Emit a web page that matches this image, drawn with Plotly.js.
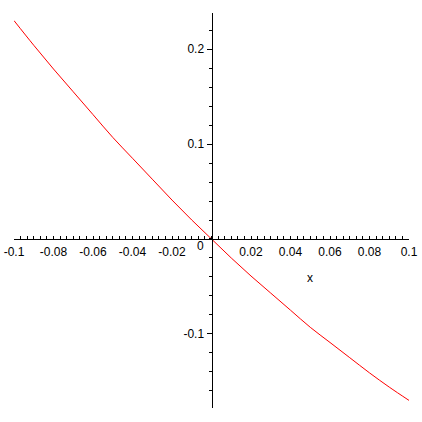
<!DOCTYPE html>
<html>
<head>
<meta charset="utf-8">
<script src="https://cdn.plot.ly/plotly-3.0.1.min.js"></script>
<style>html,body{margin:0;padding:0;background:#fff;}#plot{width:422px;height:422px;}</style>
</head>
<body>
<div id="plot"></div>
<script>
// Curve values
var xValues = [-0.1, -0.09, -0.08, -0.07, -0.06, -0.05, -0.04, -0.03, -0.02, -0.01, 0,
               0.01, 0.02, 0.03, 0.04, 0.05, 0.06, 0.07, 0.08, 0.09, 0.1];
var yValues = [0.230, 0.204, 0.179, 0.155, 0.131, 0.107, 0.085, 0.063, 0.041, 0.020, 0,
               -0.020, -0.039, -0.057, -0.075, -0.093, -0.109, -0.125, -0.141, -0.156, -0.170];

// Tick labels
var xTickVals = [-0.1, -0.08, -0.06, -0.04, -0.02, 0.02, 0.04, 0.06, 0.08, 0.1];
var xTickText = ['-0.1', '-0.08', '-0.06', '-0.04', '-0.02', '0.02', '0.04', '0.06', '0.08', '0.1'];
var yTickVals = [-0.1, 0.1, 0.2];
var yTickText = ['-0.1', '0.1', '0.2'];
var xRange = [-0.1, 0.1];
var yRange = [-0.178, 0.238];
var xAxisLabel = 'x';
var originLabel = '0';

var fontFam = '"Liberation Sans", Arial, sans-serif';
var xPos = (0 - yRange[0]) / (yRange[1] - yRange[0]);

var trace = {
  x: xValues, y: yValues, type: 'scatter', mode: 'lines',
  line: {color: '#ff0000', width: 1, shape: 'spline'},
  hoverinfo: 'skip'
};

var layout = {
  width: 422, height: 422,
  margin: {l: 14, r: 13, t: 13, b: 14},
  paper_bgcolor: '#ffffff', plot_bgcolor: '#ffffff',
  showlegend: false,
  font: {family: fontFam, size: 12, color: '#000000'},
  xaxis: {
    range: xRange, anchor: 'free', position: xPos,
    showgrid: false, zeroline: false,
    showline: true, linecolor: '#000000', linewidth: 1,
    tickmode: 'array', tickvals: xTickVals, ticktext: xTickText,
    ticks: 'inside', ticklen: 3, tickcolor: '#000000', tickwidth: 1,
    ticklabelstandoff: 2,
    tickfont: {family: fontFam, size: 12, color: '#000000'},
    minor: {tickmode: 'linear', tick0: 0, dtick: 0.02 / 6, ticks: 'inside', ticklen: 3, tickcolor: '#000000', tickwidth: 1, showgrid: false}
  },
  yaxis: {
    range: yRange, anchor: 'free', position: 0.5,
    showgrid: false, zeroline: false,
    showline: true, linecolor: '#000000', linewidth: 1,
    tickmode: 'array', tickvals: yTickVals, ticktext: yTickText,
    ticks: 'outside', ticklen: 5, tickcolor: '#000000', tickwidth: 1,
    tickfont: {family: fontFam, size: 12, color: '#000000'},
    minor: {tickmode: 'linear', tick0: 0, dtick: 0.02, ticks: 'outside', ticklen: 3, tickcolor: '#000000', tickwidth: 1, showgrid: false}
  },
  annotations: [
    {x: 0, y: 0, xref: 'x', yref: 'y', text: originLabel, showarrow: false,
     xanchor: 'right', yanchor: 'top', xshift: -6, yshift: 2,
     font: {family: fontFam, size: 12, color: '#000000'}},
    {x: 0.05, y: -0.0416, xref: 'x', yref: 'y', text: xAxisLabel, showarrow: false,
     xanchor: 'center', yanchor: 'middle',
     font: {family: fontFam, size: 12, color: '#000000'}}
  ]
};

Plotly.newPlot('plot', [trace], layout, {staticPlot: true, displayModeBar: false});
</script>
</body>
</html>
